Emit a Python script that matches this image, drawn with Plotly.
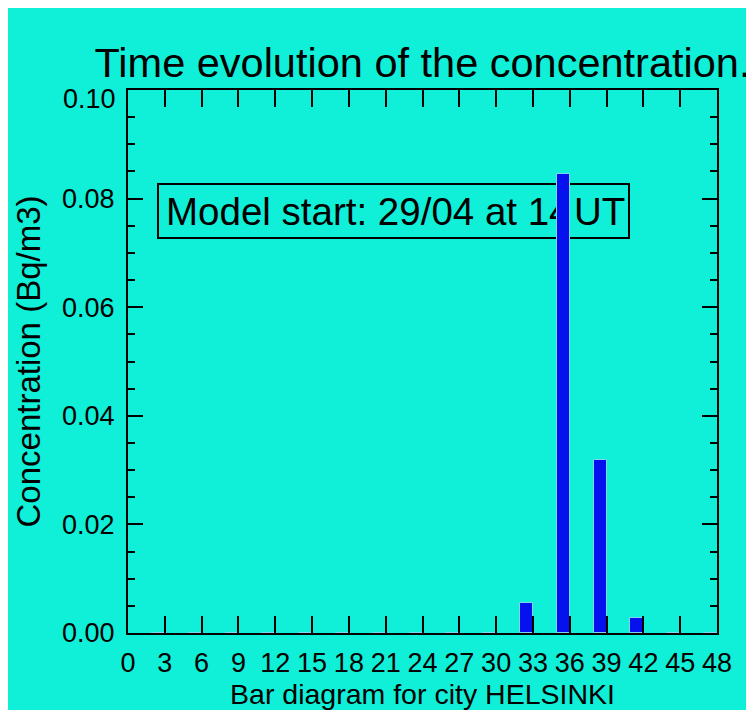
import plotly.graph_objects as go

# ---- data ----
hours = [0, 3, 6, 9, 12, 15, 18, 21, 24, 27, 30, 33, 36, 39, 42, 45, 48]
concentration = [0, 0, 0, 0, 0, 0, 0, 0, 0, 0, 0, 0.0055, 0.0846, 0.0319, 0.0027, 0, 0]
x_ticks = list(range(0, 49, 3))
y_ticks = [0.00, 0.02, 0.04, 0.06, 0.08, 0.10]
y_ticktext = ["0.00", "0.02", "0.04", "0.06", "0.08", ""]   # top label drawn lowered below
y_top_label = "0.10"
title_text = "Time evolution of the concentration."
x_title = "Bar diagram for city HELSINKI"
y_title = "Concentration (Bq/m3)"
box_parts = ["Model start: 29/04 at 14", "UT"]
box_parts_x = [3.1, 36.35]
box_parts_y = [0.0770, 0.0770]

CYAN = "#10EFD7"
BLUE = "#0612EE"
FONT = "Liberation Sans, Arial, sans-serif"

# the page body adds an 8px white margin at top-left
W, H = 754, 710
OFF = 8
ML, MT = 120, 82
PW, PH = 589, 543
MR, MB = W - ML - PW, H - MT - PH


def px_x(p):
    return (p - OFF - ML) / PW


def px_y(p):
    return (MT + PH - (p - OFF)) / PH


fig = go.Figure()

# text inside the box (base subplot, drawn under the bars)
fig.add_trace(go.Scatter(
    x=box_parts_x, y=box_parts_y, mode="text", text=box_parts,
    textposition="middle right",
    textfont=dict(family=FONT, size=38.5, color="black"),
    hoverinfo="skip", showlegend=False, xaxis="x", yaxis="y",
))

# bars on an overlaying subplot so they sit above the box
fig.add_trace(go.Bar(
    x=hours, y=concentration, width=1.05, offset=-1.05,
    marker=dict(color=BLUE, line=dict(color="#7fd8f0", width=1)),
    showlegend=False, xaxis="x2", yaxis="y2",
))

axis_common = dict(
    showgrid=False, zeroline=False, showline=True, linecolor="black", linewidth=2,
    mirror="ticks", ticks="inside", tickcolor="black", tickwidth=2,
    tickfont=dict(family=FONT, size=27, color="black"),
)

fig.update_layout(
    width=W, height=H,
    margin=dict(l=ML, r=MR, t=MT, b=MB),
    paper_bgcolor=CYAN,
    plot_bgcolor="rgba(0,0,0,0)",
    title=dict(text=title_text, x=0.5, xref="paper", xanchor="center",
               y=1 - (62 - OFF) / H, yanchor="middle",
               font=dict(family=FONT, size=41.5, color="black")),
    xaxis=dict(range=[0, 48], tickmode="array", tickvals=x_ticks,
               ticktext=[str(v) for v in x_ticks], ticklen=17,
               ticklabelstandoff=5,
               title=dict(text=x_title, standoff=4,
                          font=dict(family=FONT, size=28.5, color="black")),
               **axis_common),
    yaxis=dict(range=[0, 0.1], tickmode="array", tickvals=y_ticks,
               ticktext=y_ticktext, ticklen=15, ticklabelstandoff=6,
               minor=dict(ticks="inside", ticklen=7, dtick=0.005,
                          tickcolor="black", tickwidth=2, tick0=0),
               title=dict(text=y_title, standoff=11,
                          font=dict(family=FONT, size=33, color="black")),
               **axis_common),
    xaxis2=dict(range=[0, 48], overlaying="x", visible=False),
    yaxis2=dict(range=[0, 0.1], overlaying="y", visible=False),
    bargap=0,
    shapes=[
        dict(type="rect", xref="paper", yref="paper", layer="below",
             x0=px_x(158), x1=px_x(629), y0=px_y(238), y1=px_y(184),
             fillcolor="rgba(0,0,0,0)", line=dict(color="black", width=2)),
    ],
    annotations=[
        dict(text=y_top_label, xref="paper", x=0, xanchor="right", xshift=-10,
             yref="y", y=y_ticks[-1], yanchor="middle", yshift=-9,
             showarrow=False, font=dict(family=FONT, size=27, color="black")),
    ],
)

fig.write_html("out.html")
